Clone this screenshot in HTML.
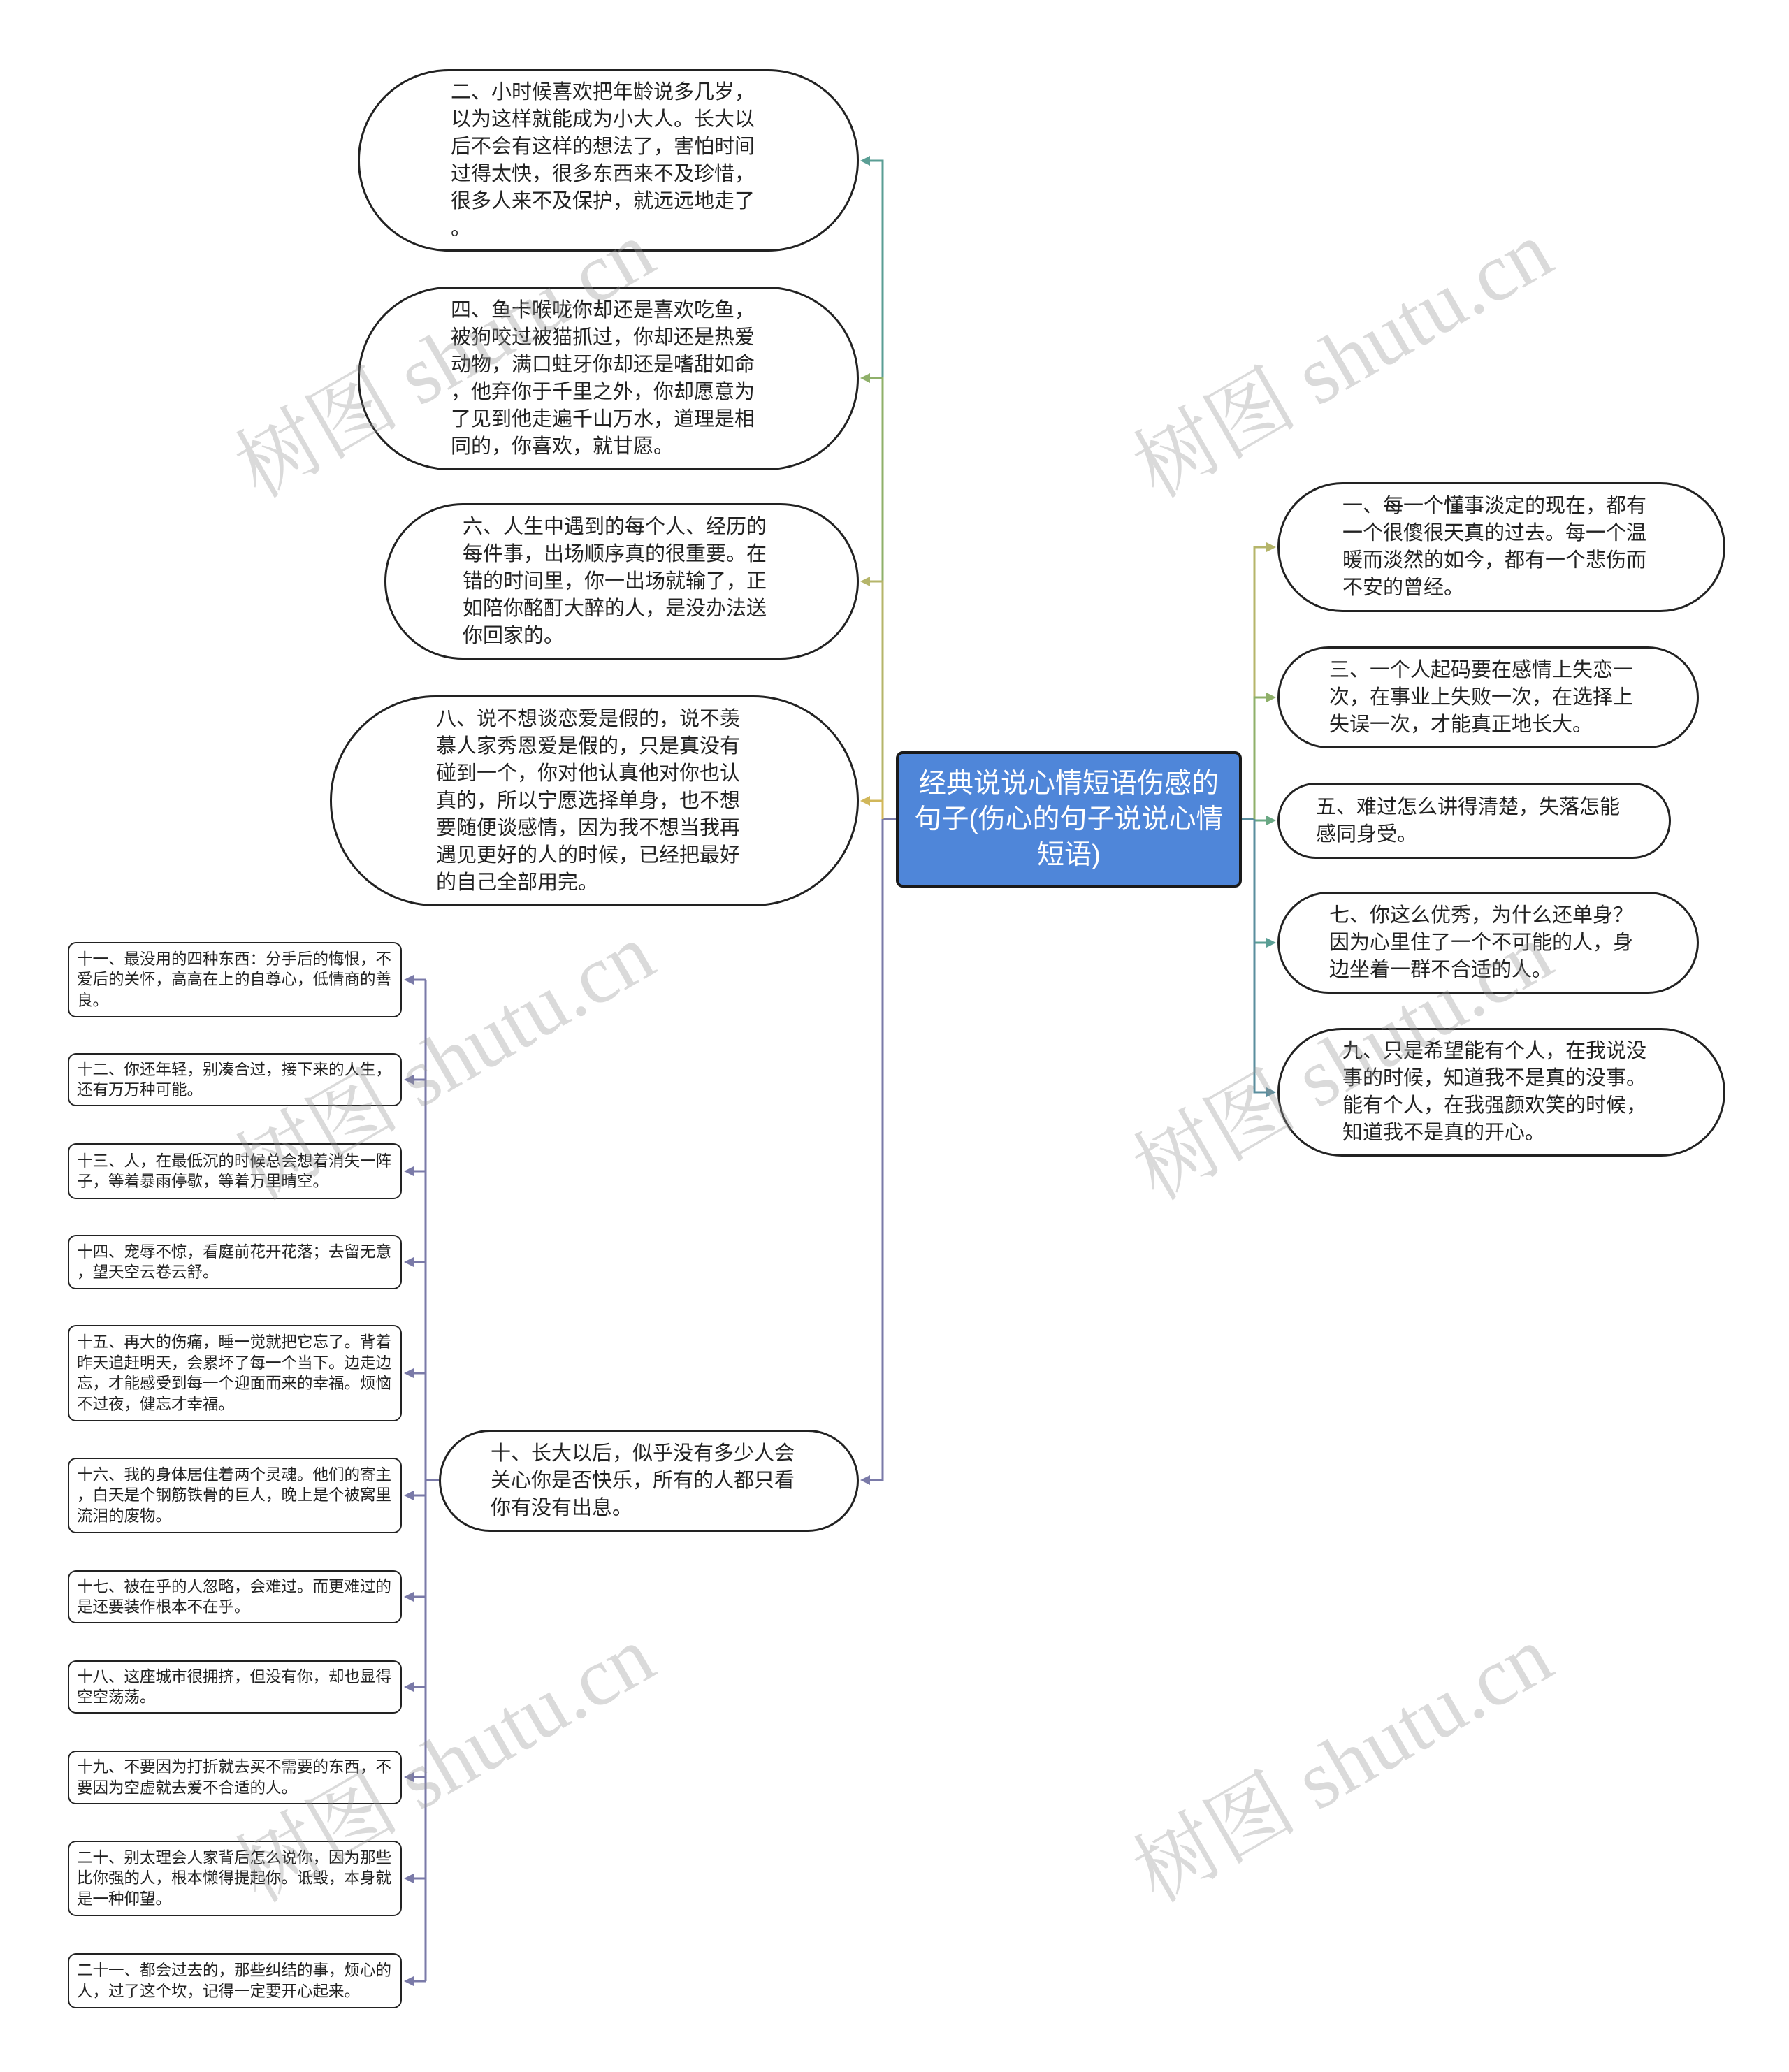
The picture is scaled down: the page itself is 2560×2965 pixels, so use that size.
<!DOCTYPE html>
<html><head><meta charset="utf-8"><style>
body{margin:0;width:2560px;height:2965px;background:#fff;position:relative;overflow:hidden;font-family:"Liberation Sans","Noto Sans CJK SC",sans-serif;}
.n{position:absolute;box-sizing:border-box;border:3px solid #222;background:#fff;display:flex;align-items:center;color:#222;}
.n .t{white-space:nowrap;}
.e{font-size:29px;line-height:39px;}
.s{font-size:22.5px;line-height:29.5px;border-radius:12px;border-width:2.5px;}
.c{position:absolute;left:1282px;top:1075px;width:495px;height:195px;box-sizing:border-box;background:#4f86d9;border:4px solid #1a1a1a;border-radius:10px;color:#fff;font-size:39px;line-height:51px;text-align:center;display:flex;align-items:center;justify-content:center;}
.w{position:absolute;font-size:118px;color:rgba(150,150,150,0.35);transform:rotate(-30deg);white-space:nowrap;font-family:"Liberation Serif","Noto Serif CJK SC",serif;}
svg{position:absolute;left:0;top:0;}
</style></head><body>
<svg width="2560" height="2965">
<g fill="none" stroke-width="3">
<path d="M1282,1172 H1263" stroke="#7a7aa8"/>
<path d="M1263,1172 V230 H1240" stroke="#5a9e94"/>
<path d="M1263,1172 V541 H1240" stroke="#8fb06a"/>
<path d="M1263,1172 V832 H1240" stroke="#b5b56a"/>
<path d="M1263,1172 V1146 H1240" stroke="#d1b75a"/>
<path d="M1263,1172 V2118 H1240" stroke="#7a7aa8"/>
<path d="M1777,1172 H1795" stroke="#5a8e9e"/>
<path d="M1795,1172 V783 H1816" stroke="#b5b56a"/>
<path d="M1795,1172 V998 H1816" stroke="#8fb06a"/>
<path d="M1795,1172 V1174 H1816" stroke="#6aa884"/>
<path d="M1795,1172 V1349 H1816" stroke="#5a9e94"/>
<path d="M1795,1172 V1563 H1816" stroke="#5a8e9e"/>
<path d="M628,2118 H609 M609,1402 V2835" stroke="#7a7aa8"/>
<path d="M609,1402 H588 M609,1545 H588 M609,1676 H588 M609,1806 H588 M609,1965 H588 M609,2140 H588 M609,2285 H588 M609,2414 H588 M609,2543 H588 M609,2688 H588 M609,2835 H588" stroke="#7a7aa8"/>
</g>
<g>
<path d="M1231,230 l14,-7 v14z" fill="#5a9e94"/>
<path d="M1231,541 l14,-7 v14z" fill="#8fb06a"/>
<path d="M1231,832 l14,-7 v14z" fill="#b5b56a"/>
<path d="M1231,1146 l14,-7 v14z" fill="#d1b75a"/>
<path d="M1231,2118 l14,-7 v14z" fill="#7a7aa8"/>
<path d="M1826,783 l-14,-7 v14z" fill="#b5b56a"/>
<path d="M1826,998 l-14,-7 v14z" fill="#8fb06a"/>
<path d="M1826,1174 l-14,-7 v14z" fill="#6aa884"/>
<path d="M1826,1349 l-14,-7 v14z" fill="#5a9e94"/>
<path d="M1826,1563 l-14,-7 v14z" fill="#5a8e9e"/>
<g fill="#7a7aa8">
<path d="M578,1402 l14,-7 v14z"/><path d="M578,1545 l14,-7 v14z"/><path d="M578,1676 l14,-7 v14z"/><path d="M578,1806 l14,-7 v14z"/><path d="M578,1965 l14,-7 v14z"/><path d="M578,2140 l14,-7 v14z"/><path d="M578,2285 l14,-7 v14z"/><path d="M578,2414 l14,-7 v14z"/><path d="M578,2543 l14,-7 v14z"/><path d="M578,2688 l14,-7 v14z"/><path d="M578,2835 l14,-7 v14z"/>
</g>
</g>
</svg>

<div class="c"><div>经典说说心情短语伤感的<br>句子(伤心的句子说说心情<br>短语)</div></div>

<div class="n e" style="left:512px;top:99px;width:717px;height:261px;border-radius:130px;padding-left:130px;"><div class="t">二、小时候喜欢把年龄说多几岁，<br>以为这样就能成为小大人。长大以<br>后不会有这样的想法了，害怕时间<br>过得太快，很多东西来不及珍惜，<br>很多人来不及保护，就远远地走了<br>。</div></div>
<div class="n e" style="left:512px;top:410px;width:717px;height:263px;border-radius:131px;padding-left:130px;"><div class="t">四、鱼卡喉咙你却还是喜欢吃鱼，<br>被狗咬过被猫抓过，你却还是热爱<br>动物，满口蛀牙你却还是嗜甜如命<br>，他弃你于千里之外，你却愿意为<br>了见到他走遍千山万水，道理是相<br>同的，你喜欢，就甘愿。</div></div>
<div class="n e" style="left:550px;top:720px;width:679px;height:224px;border-radius:112px;padding-left:109px;"><div class="t">六、人生中遇到的每个人、经历的<br>每件事，出场顺序真的很重要。在<br>错的时间里，你一出场就输了，正<br>如陪你酩酊大醉的人，是没办法送<br>你回家的。</div></div>
<div class="n e" style="left:472px;top:995px;width:757px;height:302px;border-radius:151px;padding-left:149px;"><div class="t">八、说不想谈恋爱是假的，说不羡<br>慕人家秀恩爱是假的，只是真没有<br>碰到一个，你对他认真他对你也认<br>真的，所以宁愿选择单身，也不想<br>要随便谈感情，因为我不想当我再<br>遇见更好的人的时候，已经把最好<br>的自己全部用完。</div></div>
<div class="n e" style="left:628px;top:2046px;width:601px;height:146px;border-radius:73px;padding-left:71px;"><div class="t">十、长大以后，似乎没有多少人会<br>关心你是否快乐，所有的人都只看<br>你有没有出息。</div></div>

<div class="n e" style="left:1828px;top:690px;width:641px;height:186px;border-radius:93px;padding-left:90px;"><div class="t">一、每一个懂事淡定的现在，都有<br>一个很傻很天真的过去。每一个温<br>暖而淡然的如今，都有一个悲伤而<br>不安的曾经。</div></div>
<div class="n e" style="left:1828px;top:925px;width:603px;height:146px;border-radius:73px;padding-left:71px;"><div class="t">三、一个人起码要在感情上失恋一<br>次，在事业上失败一次，在选择上<br>失误一次，才能真正地长大。</div></div>
<div class="n e" style="left:1828px;top:1120px;width:563px;height:109px;border-radius:55px;padding-left:52px;"><div class="t">五、难过怎么讲得清楚，失落怎能<br>感同身受。</div></div>
<div class="n e" style="left:1828px;top:1276px;width:603px;height:146px;border-radius:73px;padding-left:71px;"><div class="t">七、你这么优秀，为什么还单身？<br>因为心里住了一个不可能的人，身<br>边坐着一群不合适的人。</div></div>
<div class="n e" style="left:1828px;top:1471px;width:641px;height:184px;border-radius:92px;padding-left:90px;"><div class="t">九、只是希望能有个人，在我说没<br>事的时候，知道我不是真的没事。<br>能有个人，在我强颜欢笑的时候，<br>知道我不是真的开心。</div></div>

<div class="n s" style="left:97px;top:1348px;width:478px;height:108px;padding-left:11px;"><div class="t">十一、最没用的四种东西：分手后的悔恨，不<br>爱后的关怀，高高在上的自尊心，低情商的善<br>良。</div></div>
<div class="n s" style="left:97px;top:1507px;width:478px;height:76px;padding-left:11px;"><div class="t">十二、你还年轻，别凑合过，接下来的人生，<br>还有万万种可能。</div></div>
<div class="n s" style="left:97px;top:1636px;width:478px;height:80px;padding-left:11px;"><div class="t">十三、人，在最低沉的时候总会想着消失一阵<br>子，等着暴雨停歇，等着万里晴空。</div></div>
<div class="n s" style="left:97px;top:1767px;width:478px;height:78px;padding-left:11px;"><div class="t">十四、宠辱不惊，看庭前花开花落；去留无意<br>，望天空云卷云舒。</div></div>
<div class="n s" style="left:97px;top:1896px;width:478px;height:138px;padding-left:11px;"><div class="t">十五、再大的伤痛，睡一觉就把它忘了。背着<br>昨天追赶明天，会累坏了每一个当下。边走边<br>忘，才能感受到每一个迎面而来的幸福。烦恼<br>不过夜，健忘才幸福。</div></div>
<div class="n s" style="left:97px;top:2086px;width:478px;height:108px;padding-left:11px;"><div class="t">十六、我的身体居住着两个灵魂。他们的寄主<br>，白天是个钢筋铁骨的巨人，晚上是个被窝里<br>流泪的废物。</div></div>
<div class="n s" style="left:97px;top:2247px;width:478px;height:76px;padding-left:11px;"><div class="t">十七、被在乎的人忽略，会难过。而更难过的<br>是还要装作根本不在乎。</div></div>
<div class="n s" style="left:97px;top:2376px;width:478px;height:76px;padding-left:11px;"><div class="t">十八、这座城市很拥挤，但没有你，却也显得<br>空空荡荡。</div></div>
<div class="n s" style="left:97px;top:2505px;width:478px;height:77px;padding-left:11px;"><div class="t">十九、不要因为打折就去买不需要的东西，不<br>要因为空虚就去爱不合适的人。</div></div>
<div class="n s" style="left:97px;top:2634px;width:478px;height:108px;padding-left:11px;"><div class="t">二十、别太理会人家背后怎么说你，因为那些<br>比你强的人，根本懒得提起你。诋毁，本身就<br>是一种仰望。</div></div>
<div class="n s" style="left:97px;top:2795px;width:478px;height:79px;padding-left:11px;"><div class="t">二十一、都会过去的，那些纠结的事，烦心的<br>人，过了这个坎，记得一定要开心起来。</div></div>

<div class="w" style="left:300px;top:420px;">树图 shutu.cn</div>
<div class="w" style="left:1585px;top:420px;">树图 shutu.cn</div>
<div class="w" style="left:300px;top:1425px;">树图 shutu.cn</div>
<div class="w" style="left:1585px;top:1425px;">树图 shutu.cn</div>
<div class="w" style="left:300px;top:2430px;">树图 shutu.cn</div>
<div class="w" style="left:1585px;top:2430px;">树图 shutu.cn</div>
</body></html>
